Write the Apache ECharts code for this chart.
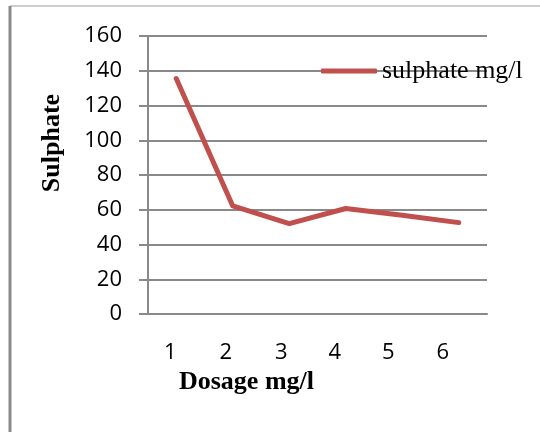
<!DOCTYPE html>
<html>
<head>
<meta charset="utf-8">
<script src="https://cdn.jsdelivr.net/npm/echarts@6/dist/echarts.min.js"></script>
<style>
html,body{margin:0;padding:0;background:#fff;}
#chart{width:540px;height:432px;}
</style>
</head>
<body>
<div id="chart"></div>
<script>
var categories = ['1', '2', '3', '4', '5', '6'];
var sulphateValues = [135.5, 62.2, 52, 60.7, 56.8, 52.6];
var seriesName = 'sulphate mg/l';
var yTicks = { min: 0, max: 160, interval: 20 };

// label nudges (style only) to mimic the source rendering
var labelShift = [12, 14, 16, 22, 28, 32];
var rich = {};
labelShift.forEach(function (p, i) {
  rich['s' + i] = { fontFamily: 'Open Sans', fontSize: 22, color: '#000', padding: [0, p, 0, 0] };
});

var chart = echarts.init(document.getElementById('chart'));
var gray = '#898989';
chart.setOption({
  animation: false,
  backgroundColor: '#ffffff',
  grid: { left: 148, right: 53, top: 36, bottom: 118 },
  graphic: [
    { type: 'line', shape: { x1: 10, y1: 6, x2: 540, y2: 6 }, style: { stroke: '#a0a0a0', lineWidth: 1.2 } },
    { type: 'line', shape: { x1: 10, y1: 6, x2: 10, y2: 432 }, style: { stroke: '#8a8a8a', lineWidth: 3 } }
  ],
  legend: {
    data: [seriesName],
    left: 316,
    top: 53,
    padding: 5,
    icon: 'roundRect',
    itemWidth: 56,
    itemHeight: 5,
    itemGap: 0,
    itemStyle: { color: '#C0504D', borderWidth: 0 },
    textStyle: { fontFamily: 'Liberation Serif', fontSize: 26, color: '#000' }
  },
  xAxis: {
    type: 'category',
    data: categories,
    boundaryGap: true,
    name: 'Dosage mg/l',
    nameLocation: 'middle',
    nameGap: 51,
    nameTextStyle: { fontFamily: 'Liberation Serif', fontWeight: 'bold', fontSize: 26, color: '#000', padding: [0,142,0,0] },
    axisLine: { show: true, lineStyle: { color: gray, width: 2 } },
    axisTick: { show: false },
    axisLabel: {
      interval: 0,
      hideOverlap: false,
      margin: 28, fontFamily: 'Open Sans', fontSize: 22, color: '#000',
      formatter: function (v, i) { return '{s' + i + '|' + v + '}'; },
      rich: rich
    },
    splitLine: { show: false }
  },
  yAxis: {
    type: 'value',
    min: yTicks.min,
    max: yTicks.max,
    interval: yTicks.interval,
    name: 'Sulphate',
    nameLocation: 'middle',
    nameGap: 83,
    nameRotate: 90,
    nameTextStyle: { fontFamily: 'Liberation Serif', fontWeight: 'bold', fontSize: 26, color: '#000', padding: [0,0,0,64] },
    axisLine: { show: true, lineStyle: { color: gray, width: 2 } },
    axisTick: { show: true, length: 9, lineStyle: { color: gray, width: 2 } },
    axisLabel: { margin: 26, fontFamily: 'Open Sans', fontSize: 22, color: '#000' },
    splitLine: { show: true, lineStyle: { color: gray, width: 2 } }
  },
  series: [{
    name: seriesName,
    type: 'line',
    data: sulphateValues,
    showSymbol: false,
    symbol: 'none',
    lineStyle: { color: '#C0504D', width: 5, cap: 'round', join: 'round' },
    itemStyle: { color: '#C0504D' }
  }]
});
</script>
</body>
</html>
